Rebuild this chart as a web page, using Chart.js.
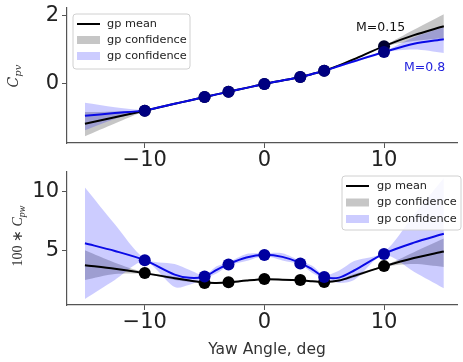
<!DOCTYPE html>
<html>
<head>
<meta charset="utf-8">
<script src="https://cdn.jsdelivr.net/npm/chart.js@4.4.1/dist/chart.umd.min.js"></script>
<style>
  html, body { margin: 0; padding: 0; background: #fff; }
  #wrap { position: relative; width: 463px; height: 362px; overflow: hidden; }
  canvas { position: absolute; left: 0; }
  #cTop { top: 0; }
  #cBot { top: 166px; }
</style>
</head>
<body>
<div id="wrap">
  <canvas id="cTop" width="463" height="175"></canvas>
  <canvas id="cBot" width="463" height="196"></canvas>
</div>
<script>
// ── Data ────────────────────────────────────────────────
const angles = [-10, -5, -3, 0, 3, 5, 10];
const fitX   = [-15, -12.5, -10, -7.5, -6.25, -5, -4, -3, -1.5, 0, 1.5, 3, 4, 5, 6.25, 7.5, 10, 12.5, 15];
const xTicks = [-10, 0, 10];

// top panel: C_pv
const cpvPtsBlack  = [-0.78, -0.38, -0.23, 0, 0.2, 0.38, 1.1];
const cpvPtsBlue   = [-0.78, -0.38, -0.23, 0, 0.2, 0.38, 0.93];
const cpvMeanBlack = [-1.16, -0.97, -0.78, -0.58, -0.48, -0.38, -0.305, -0.23, -0.115, 0, 0.1, 0.2, 0.29, 0.38, 0.54, 0.72, 1.1, 1.42, 1.68];
const cpvMeanBlue  = [-0.93, -0.85, -0.77, -0.58, -0.48, -0.38, -0.305, -0.23, -0.115, 0, 0.1, 0.2, 0.29, 0.38, 0.52, 0.66, 0.93, 1.17, 1.3];
const cpvGrayLo    = [-1.52, -1.15, -0.80, -0.60, -0.50, -0.40, -0.32, -0.25, -0.13, -0.02, 0.08, 0.18, 0.27, 0.36, 0.51, 0.69, 1.08, 1.25, 1.33];
const cpvGrayHi    = [-0.82, -0.80, -0.76, -0.56, -0.46, -0.36, -0.29, -0.21, -0.10, 0.02, 0.12, 0.22, 0.31, 0.40, 0.57, 0.75, 1.12, 1.58, 2.03];
const cpvBlueLo    = [-1.35, -1.02, -0.79, -0.60, -0.50, -0.40, -0.32, -0.25, -0.13, -0.02, 0.08, 0.18, 0.27, 0.36, 0.49, 0.62, 0.91, 1.00, 0.90];
const cpvBlueHi    = [-0.55, -0.68, -0.75, -0.56, -0.46, -0.36, -0.29, -0.21, -0.10, 0.02, 0.12, 0.22, 0.31, 0.40, 0.55, 0.70, 0.95, 1.36, 1.65];
const cpvTicks     = [0, 2];

// bottom panel: 100 * C_pw
const cpwPtsBlack  = [3.08, 2.25, 2.3, 2.58, 2.5, 2.33, 3.67];
const cpwPtsBlue   = [4.17, 2.8, 3.8, 4.6, 3.9, 2.75, 4.7];
const cpwMeanBlack = [3.75, 3.45, 3.08, 2.65, 2.45, 2.28, 2.25, 2.3, 2.45, 2.56, 2.53, 2.47, 2.4, 2.33, 2.45, 2.85, 3.65, 4.35, 4.9];
const cpwMeanBlue  = [5.6, 4.95, 4.17, 2.95, 2.68, 2.78, 3.35, 3.85, 4.4, 4.62, 4.45, 3.95, 3.4, 2.76, 2.7, 3.3, 4.72, 5.65, 6.4];
const cpwGrayLo    = [2.5, 3.0, 3.0, 2.5, 2.35, 2.22, 2.2, 2.25, 2.4, 2.5, 2.48, 2.42, 2.35, 2.28, 2.38, 2.7, 3.6, 3.85, 3.6];
const cpwGrayHi    = [5.0, 3.95, 3.15, 2.8, 2.55, 2.34, 2.3, 2.35, 2.5, 2.62, 2.58, 2.52, 2.45, 2.38, 2.52, 3.0, 3.72, 4.85, 6.0];
const cpwBlueLo    = [0.9, 2.5, 4.05, 1.9, 2.1, 2.62, 3.05, 3.7, 4.1, 4.5, 4.15, 3.8, 3.1, 2.62, 2.25, 2.5, 4.6, 3.2, 1.8];
const cpwBlueHi    = [10.3, 7.2, 4.3, 3.85, 3.35, 2.92, 3.65, 4.0, 4.7, 4.75, 4.75, 4.1, 3.7, 2.9, 3.3, 4.1, 4.85, 8.0, 11.1];
const cpwTicks     = [5, 10];

// ── Helpers ─────────────────────────────────────────────
const FONT = "'DejaVu Sans', sans-serif";
const AXIS = '#555';
const GRAY_FILL = 'rgba(128,128,128,0.45)';
const BLUE_FILL = 'rgba(0,0,255,0.2)';
const BLUE_LINE = '#0a0ae6';
const TENSION = 0.3;

const pts = (xs, ys) => xs.map((x, i) => ({ x, y: ys[i] }));
const minus = v => (v < 0 ? '\u2212' + Math.abs(v) : '' + v);

function band(lo, hi, color, order) {
  return [
    { data: pts(fitX, hi), fill: '+1', backgroundColor: color, borderWidth: 0, pointRadius: 0, tension: TENSION, order },
    { data: pts(fitX, lo), fill: false, backgroundColor: color, borderWidth: 0, pointRadius: 0, tension: TENSION, order },
  ];
}
function line(ys, color, order) {
  return { data: pts(fitX, ys), borderColor: color, borderWidth: 2, pointRadius: 0, fill: false, tension: TENSION, order };
}
function dots(ys, color, order) {
  return { data: pts(angles, ys), showLine: false, pointRadius: 6, pointBackgroundColor: color, pointBorderColor: color, pointBorderWidth: 0, order };
}

function scales(yMin, yMax, yTicks, xAxisH) {
  return {
    x: {
      type: 'linear', min: -16.5, max: 16.1,
      afterBuildTicks: s => { s.ticks = xTicks.map(v => ({ value: v })); },
      afterFit: s => { s.height = xAxisH; s.paddingLeft = 0; s.paddingRight = 0; },
      grid: { display: true, drawOnChartArea: false, tickLength: 5, color: AXIS },
      border: { display: true, color: AXIS, width: 1.2 },
      ticks: { color: '#222', padding: 0, font: { size: 21, family: FONT }, callback: minus, maxRotation: 0 },
    },
    y: {
      type: 'linear', min: yMin, max: yMax,
      afterBuildTicks: s => { s.ticks = yTicks.map(v => ({ value: v })); },
      afterFit: s => { s.width = 67; s.paddingTop = 0; s.paddingBottom = 0; },
      grid: { display: true, drawOnChartArea: false, tickLength: 5, color: AXIS },
      border: { display: true, color: AXIS, width: 1.2 },
      ticks: { color: '#222', padding: 3, font: { size: 21, family: FONT }, callback: minus },
    },
  };
}

function drawLegend(ctx, b) {
  ctx.save();
  ctx.beginPath();
  ctx.roundRect(b.x, b.y, b.w, b.h, 3);
  ctx.fillStyle = 'rgba(255,255,255,0.85)';
  ctx.fill();
  ctx.strokeStyle = '#d0d0d0';
  ctx.lineWidth = 1;
  ctx.stroke();
  const rows = [
    { kind: 'line', label: 'gp mean', color: '#000' },
    { kind: 'patch', label: 'gp confidence', color: GRAY_FILL },
    { kind: 'patch', label: 'gp confidence', color: BLUE_FILL },
  ];
  ctx.font = '11.3px ' + FONT;
  ctx.textBaseline = 'middle';
  rows.forEach((r, i) => {
    const y = b.rowY + i * b.gap;
    if (r.kind === 'line') {
      ctx.strokeStyle = r.color; ctx.lineWidth = 2;
      ctx.beginPath(); ctx.moveTo(b.mx, y); ctx.lineTo(b.mx + 23, y); ctx.stroke();
    } else {
      ctx.fillStyle = r.color;
      ctx.fillRect(b.mx, y - 4, 23, 8);
    }
    ctx.fillStyle = '#222';
    ctx.fillText(r.label, b.tx, y);
  });
  ctx.restore();
}

function drawVTitle(ctx, cx, cy, parts) {
  ctx.save();
  ctx.translate(cx, cy);
  ctx.rotate(-Math.PI / 2);
  ctx.fillStyle = '#333';
  ctx.textBaseline = 'alphabetic';
  let total = 0;
  parts.forEach(p => { ctx.font = p.font; p.w = ctx.measureText(p.t).width; total += p.w; });
  let x = -total / 2;
  parts.forEach(p => { ctx.font = p.font; ctx.fillText(p.t, x, 5 + (p.dy || 0)); x += p.w; });
  ctx.restore();
}

// ── Top chart ───────────────────────────────────────────
new Chart(document.getElementById('cTop'), {
  type: 'line',
  data: {
    datasets: [
      ...band(cpvGrayLo, cpvGrayHi, GRAY_FILL, 6),
      ...band(cpvBlueLo, cpvBlueHi, BLUE_FILL, 5),
      line(cpvMeanBlack, '#000', 4),
      line(cpvMeanBlue, BLUE_LINE, 3),
      dots(cpvPtsBlack, '#000030', 2),
      dots(cpvPtsBlue, '#000080', 1),
    ],
  },
  options: {
    responsive: false, animation: false,
    layout: { padding: { left: 0, right: 0, top: 8, bottom: 0 } },
    scales: scales(-1.72, 2.21, cpvTicks, 32),
    plugins: { legend: { display: false }, tooltip: { enabled: false } },
  },
  plugins: [{
    id: 'topText',
    afterDraw(chart) {
      const ctx = chart.ctx;
      drawLegend(ctx, { x: 73, y: 14, w: 117, h: 55, rowY: 24, gap: 16, mx: 77, tx: 107 });
      ctx.save();
      ctx.font = '12.5px ' + FONT;
      ctx.textBaseline = 'middle';
      ctx.fillStyle = '#111';
      ctx.fillText('M=0.15', 356, 28);
      ctx.fillStyle = '#2222dd';
      ctx.fillText('M=0.8', 404, 68);
      ctx.restore();
      drawVTitle(ctx, 13, 76, [
        { t: 'C', font: "italic 14px 'DejaVu Serif', serif" },
        { t: 'pv', font: "italic 10px 'DejaVu Serif', serif", dy: 3 },
      ]);
    },
  }],
});

// ── Bottom chart ────────────────────────────────────────
new Chart(document.getElementById('cBot'), {
  type: 'line',
  data: {
    datasets: [
      ...band(cpwGrayLo, cpwGrayHi, GRAY_FILL, 6),
      ...band(cpwBlueLo, cpwBlueHi, BLUE_FILL, 5),
      line(cpwMeanBlack, '#000', 4),
      line(cpwMeanBlue, BLUE_LINE, 3),
      dots(cpwPtsBlack, '#000', 2),
      dots(cpwPtsBlue, '#0000a0', 1),
    ],
  },
  options: {
    responsive: false, animation: false,
    layout: { padding: { left: 0, right: 0, top: 5, bottom: 0 } },
    scales: scales(0.39, 11.61, cpwTicks, 57),
    plugins: { legend: { display: false }, tooltip: { enabled: false } },
  },
  plugins: [{
    id: 'botText',
    afterDraw(chart) {
      const ctx = chart.ctx;
      drawLegend(ctx, { x: 342, y: 10, w: 119, h: 54, rowY: 20, gap: 16.5, mx: 346, tx: 377 });
      ctx.save();
      ctx.font = '15.5px ' + FONT;
      ctx.fillStyle = '#333';
      ctx.textAlign = 'center';
      ctx.textBaseline = 'middle';
      ctx.fillText('Yaw Angle, deg', 267, 184);
      ctx.restore();
      drawVTitle(ctx, 17, 70, [
        { t: '100 \u2217 ', font: "14px 'Liberation Serif', serif" },
        { t: 'C', font: "italic 14px 'Liberation Serif', serif" },
        { t: 'pw', font: "italic 10px 'Liberation Serif', serif", dy: 3 },
      ]);
    },
  }],
});
</script>
</body>
</html>
